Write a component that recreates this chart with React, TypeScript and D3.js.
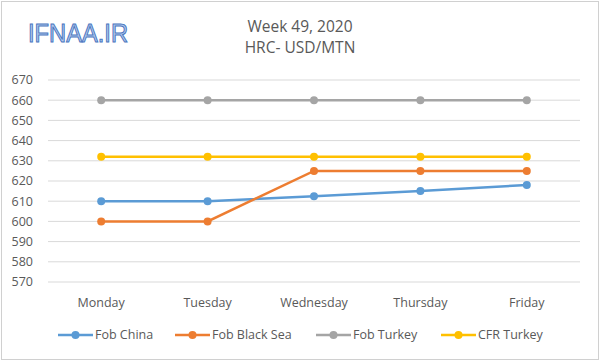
import * as React from 'react';
import { useRef, useEffect } from 'react';
import * as d3 from 'd3';

const days = ['Monday', 'Tuesday', 'Wednesday', 'Thursday', 'Friday'];
const fobChina = [610, 610, 612.5, 615, 618];
const fobBlackSea = [600, 600, 625, 625, 625];
const fobTurkey = [660, 660, 660, 660, 660];
const cfrTurkey = [632, 632, 632, 632, 632];
const yTicks = [570, 580, 590, 600, 610, 620, 630, 640, 650, 660, 670];

const seriesNames = ['Fob China', 'Fob Black Sea', 'Fob Turkey', 'CFR Turkey'];
const seriesColors = ['#5B9BD5', '#ED7D31', '#A5A5A5', '#FFC000'];

const W = 600;
const H = 361;

const App: React.FC = () => {
  const svgRef = useRef<SVGSVGElement>(null);

  useEffect(() => {
    if (!svgRef.current) return;
    const svg = d3.select(svgRef.current);
    svg.selectAll('*').remove();

    const font = 'Open Sans, Liberation Sans, sans-serif';
    const textColor = '#595959';

    svg.append('rect')
      .attr('x', 1.5).attr('y', 1.5)
      .attr('width', W - 3).attr('height', H - 3)
      .attr('fill', '#fff').attr('stroke', '#d0d0d0');

    const margin = { top: 80, right: 20, bottom: 79, left: 48 };
    const innerW = W - margin.left - margin.right;
    const innerH = H - margin.top - margin.bottom;

    const x = d3.scaleBand().domain(days).range([margin.left, margin.left + innerW]);
    const y = d3.scaleLinear().domain([570, 670]).range([margin.top + innerH, margin.top]);

    // title
    svg.append('text').attr('x', 300).attr('y', 32).attr('text-anchor', 'middle')
      .attr('font-family', font).attr('font-size', 15.5).attr('fill', textColor)
      .text('Week 49, 2020');
    svg.append('text').attr('x', 300).attr('y', 53).attr('text-anchor', 'middle')
      .attr('font-family', font).attr('font-size', 15.5).attr('fill', textColor)
      .text('HRC- USD/MTN');

    // logo
    svg.append('text').attr('x', 28).attr('y', 42)
      .attr('font-family', 'Liberation Sans, sans-serif').attr('font-size', 25)
      .attr('textLength', 100).attr('lengthAdjust', 'spacingAndGlyphs')
      .attr('fill', '#b4cbee').attr('stroke', '#4a76c0').attr('stroke-width', 1)
      .text('IFNAA.IR');

    // grid
    svg.append('g').selectAll('line').data(yTicks).enter().append('line')
      .attr('x1', margin.left).attr('x2', margin.left + innerW)
      .attr('y1', d => y(d)).attr('y2', d => y(d))
      .attr('stroke', '#d9d9d9').attr('stroke-width', 1);

    svg.append('g').selectAll('text').data(yTicks).enter().append('text')
      .attr('x', 33).attr('y', d => y(d)).attr('dy', '0.35em')
      .attr('text-anchor', 'end').attr('font-family', font).attr('font-size', 12.5)
      .attr('fill', textColor).text(d => d);

    svg.append('g').selectAll('text').data(days).enter().append('text')
      .attr('x', d => x(d)! + x.bandwidth() / 2).attr('y', 307)
      .attr('text-anchor', 'middle').attr('font-family', font).attr('font-size', 12.5)
      .attr('fill', textColor).text(d => d);

    const allSeries = [fobChina, fobBlackSea, fobTurkey, cfrTurkey];
    const line = d3.line<number>()
      .x((_, i) => x(days[i])! + x.bandwidth() / 2)
      .y(d => y(d));

    allSeries.forEach((vals, si) => {
      const g = svg.append('g');
      g.append('path').datum(vals).attr('d', line)
        .attr('fill', 'none').attr('stroke', seriesColors[si]).attr('stroke-width', 2.5);
      g.selectAll('circle').data(vals).enter().append('circle')
        .attr('cx', (_, i) => x(days[i])! + x.bandwidth() / 2)
        .attr('cy', d => y(d)).attr('r', 4)
        .attr('fill', seriesColors[si]);
    });

    // legend
    const legendX = [58, 175, 316, 441];
    const ly = 335;
    seriesNames.forEach((name, i) => {
      const g = svg.append('g').attr('transform', `translate(${legendX[i]},${ly})`);
      g.append('line').attr('x1', 0).attr('x2', 35).attr('y1', 0).attr('y2', 0)
        .attr('stroke', seriesColors[i]).attr('stroke-width', 2.5);
      g.append('circle').attr('cx', 17.5).attr('cy', 0).attr('r', 4).attr('fill', seriesColors[i]);
      g.append('text').attr('x', 37).attr('y', 0).attr('dy', '0.35em')
        .attr('font-family', font).attr('font-size', 12.5).attr('fill', textColor)
        .text(name);
    });
  }, []);

  return (
    <svg ref={svgRef} width={W} height={H}
      style={{ position: 'absolute', left: 0, top: 0, background: '#fff' }} />
  );
};

export default App;
